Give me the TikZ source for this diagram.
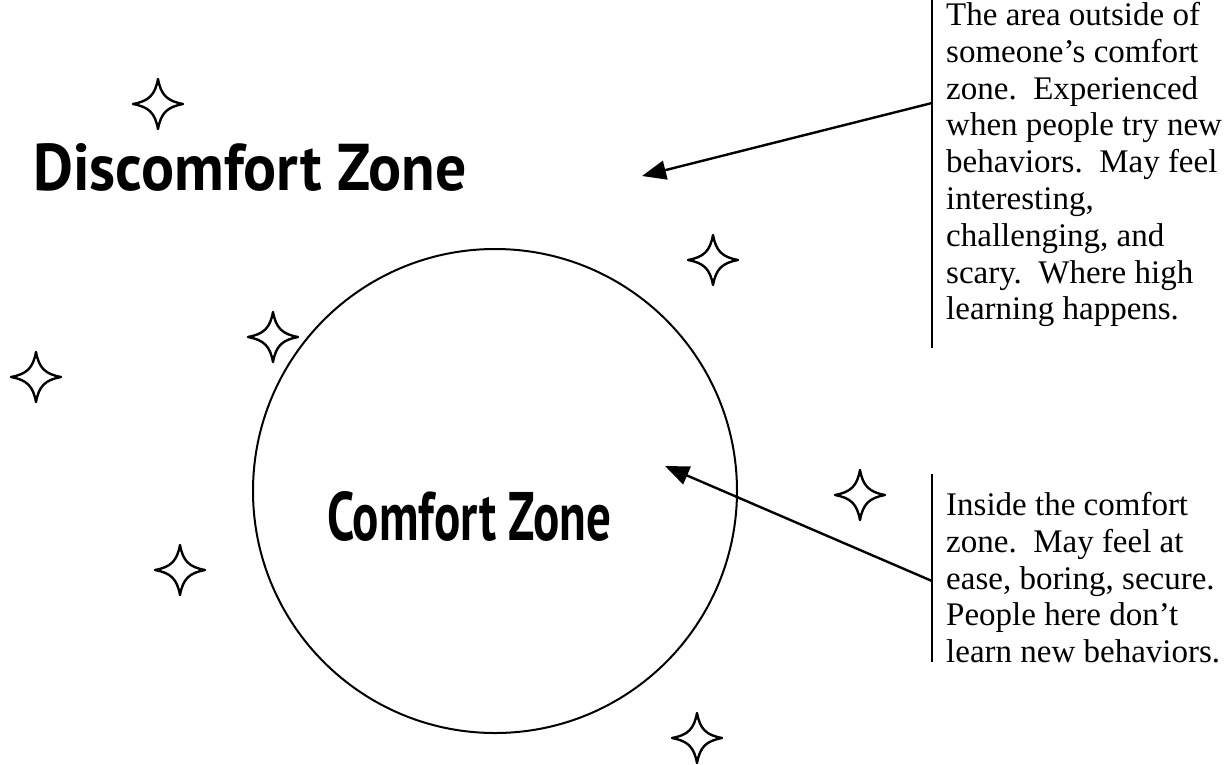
\documentclass[tikz,border=0pt]{standalone}
\usepackage{fontspec}
\setmainfont{Liberation Serif}
\newfontfamily\zonefont{PT Sans}
\usetikzlibrary{arrows.meta}
\begin{document}
\begin{tikzpicture}[x=1pt,y=-1pt,
  starshape/.style={line width=2.4pt,line join=round},
  pointer/.style={line width=2.4pt,-{Triangle[length=24pt,width=19pt]}},
  bracket/.style={line width=1.4pt},
  note/.style={inner sep=0pt,anchor=north west,align=left,
    font=\fontsize{33}{36.8}\selectfont},
  zone/.style={inner sep=0pt,anchor=base west}]
\useasboundingbox (0,0) rectangle (1232,764);
\fill[white] (0,0) rectangle (1232,764);
% comfort circle
\node[circle,draw,line width=2pt,minimum size=484pt,inner sep=0pt] (circ) at (495,491) {};
% zone labels
\node[zone] (disc) at (33,190) {\resizebox{433pt}{47pt}{\zonefont\bfseries Discomfort Zone}};
\node[zone] (comf) at (327,540) {\resizebox{284pt}{49pt}{\zonefont\bfseries Comfort Zone}};
% stars
\foreach \sx/\sy in {158/104,273/337,713/260,36/377,860/495,180/570,697/738}{
  \draw[starshape,shift={(\sx,\sy)}]
    (0,-25) .. controls (3,-9) and (9,-3) .. (25,0)
    .. controls (9,3) and (3,9) .. (0,25)
    .. controls (-3,9) and (-9,3) .. (-25,0)
    .. controls (-9,-3) and (-3,-9) .. cycle;
}
% bracket lines
\coordinate (b1t) at (932,0);
\coordinate (b1b) at (932,348);
\coordinate (b2t) at (932,474);
\coordinate (b2b) at (932,662);
\draw[bracket] (b1t) -- (b1b);
\draw[bracket] (b2t) -- (b2b);
% notes
\node[note] (n1) at (946,2) {The area outside of\\someone's comfort\\zone.\ \ Experienced\\when people try new\\behaviors.\ \ May feel\\interesting,\\challenging, and\\scary.\ \ Where high\\learning happens.};
\node[note] (n2) at (946,492) {Inside the comfort\\zone.\ \ May feel at\\ease, boring, secure.\\People here don't\\learn new behaviors.};
% arrows
\coordinate (a1s) at (932,103);
\coordinate (a1e) at (642,176);
\coordinate (a2s) at (932,581);
\coordinate (a2e) at (665,466);
\draw[pointer] (a1s) -- (a1e);
\draw[pointer] (a2s) -- (a2e);
\end{tikzpicture}
\end{document}
